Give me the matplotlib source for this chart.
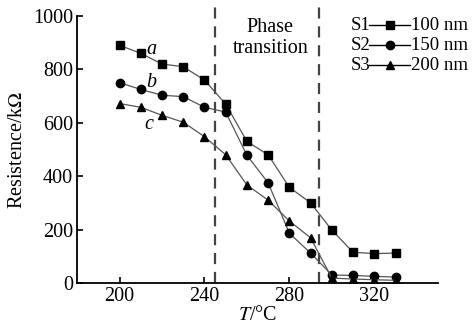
import matplotlib
matplotlib.use("Agg")
import matplotlib.pyplot as plt
from matplotlib.lines import Line2D

plt.rcParams['font.family'] = ['Liberation Serif', 'DejaVu Serif']
plt.rcParams['mathtext.fontset'] = 'stix'

# ── data ──
temps = [200, 210, 220, 230, 240, 250, 260, 270, 280, 290, 300, 310, 320, 330]
s1 = [890, 860, 820, 810, 760, 670, 530, 480, 358, 300, 198, 115, 110, 112]
s2 = [750, 725, 703, 698, 658, 640, 478, 375, 186, 112, 30, 28, 25, 22]
s3 = [672, 658, 628, 602, 548, 480, 367, 310, 232, 169, 18, 15, 12, 10]
series = [("S1", "100 nm", s1, 's', 'a'), ("S2", "150 nm", s2, 'o', 'b'),
          ("S3", "200 nm", s3, '^', 'c')]
label_pos = {'a': (215, 873), 'b': (215, 750), 'c': (214, 592)}
phase_lines = [245, 294]

FS = 14.5
fig = plt.figure(figsize=(4.73, 3.26), dpi=100)
ax = fig.add_axes([0.163, 0.132, 0.763, 0.819])

for name, size, vals, mk, tag in series:
    ax.plot(temps, vals, color='#555555', lw=0.9, marker=mk, ms=6,
            mfc='black', mec='black', zorder=3)
    ax.text(*label_pos[tag], tag, fontsize=FS, style='italic', ha='center', va='center')

for xv in phase_lines:
    ax.plot([xv, xv], [0, 1065], ls=(0, (5, 3.5)), color='#444444', lw=1.6,
            clip_on=False, zorder=2)

ax.text(271, 955, "Phase", fontsize=FS, ha='center', va='center')
ax.text(271, 880, "transition", fontsize=FS, ha='center', va='center')

ax.set_xlim(180, 350)
ax.set_ylim(0, 1000)
ax.set_xticks([200, 240, 280, 320])
ax.set_yticks([0, 200, 400, 600, 800, 1000])
ax.tick_params(direction='in', labelsize=FS, length=4, width=1.2, pad=3)
for sp in ['top', 'right']:
    ax.spines[sp].set_visible(False)
for sp in ['left', 'bottom']:
    ax.spines[sp].set_linewidth(1.3)
ax.set_ylabel("Resistence/k$\\Omega$", fontsize=FS, labelpad=4)
ax.set_xlabel("$T$/°C", fontsize=FS, labelpad=0)

# legend drawn by hand: "S1 —■— 100 nm"
LFS = 13.5
for i, (name, size, vals, mk, tag) in enumerate(series):
    yy = 1 - (25 + 20 * i) / 326
    fig.text(351 / 473, yy, name, fontsize=LFS, va='center', ha='left')
    fig.add_artist(Line2D([369 / 473, 410 / 473], [yy, yy], color='black', lw=1.0,
                          transform=fig.transFigure))
    fig.add_artist(Line2D([390 / 473], [yy], color='black', marker=mk, ms=6,
                          mfc='black', mec='black', transform=fig.transFigure))
    fig.text(411 / 473, yy, size, fontsize=LFS, va='center', ha='left')

fig.savefig("out.png", dpi=100)
